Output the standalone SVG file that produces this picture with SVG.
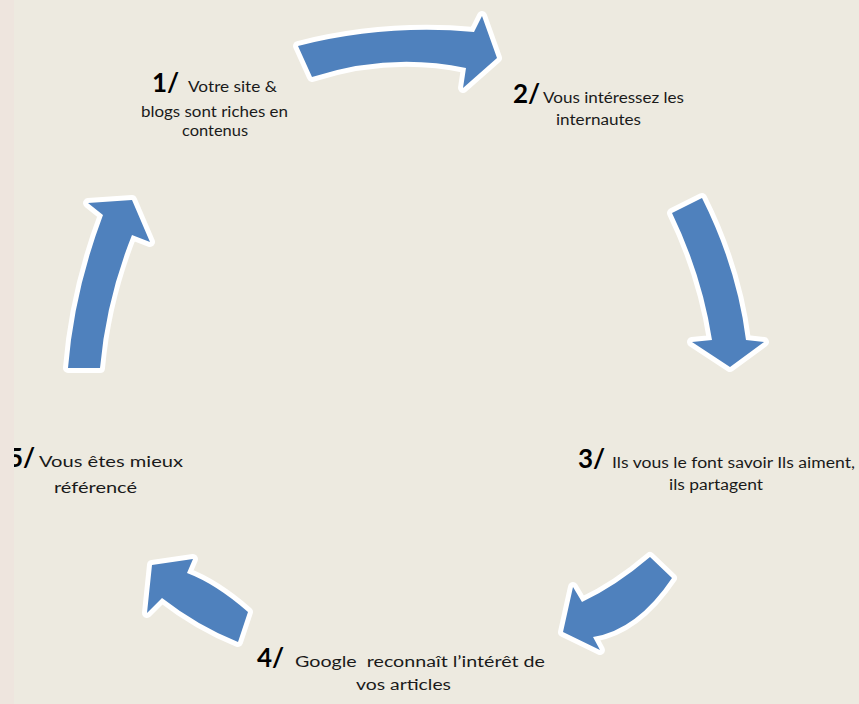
<svg xmlns="http://www.w3.org/2000/svg" width="859" height="704" viewBox="0 0 859 704">
<style>
.arrow{fill:#4F81BD;stroke:#FFFFFF;stroke-width:10;stroke-linejoin:round;paint-order:stroke}
.num{font-family:Lato,"Liberation Sans",sans-serif;font-weight:bold;font-size:26px;fill:#000}
.t{font-family:Lato,"Liberation Sans",sans-serif;font-size:15.5px;fill:#1a1a1a}
</style>
<rect x="0" y="0" width="859" height="704" fill="#EDEAE0"/>
<g id="connectors">
<path class="arrow" d="M298,46 Q385,24 474,32 L482,16 L497,58 L463,88 L466,68 Q390,52 312,77 Z"/>
<path class="arrow" d="M672,213 Q702,275 712,340 L692,342 L730,367 L764,342 L746,340 Q737,268 702,198 Z"/>
<path class="arrow" d="M650,557 Q616,586 582,602 L573,587 L563,632 L600,650 L593,637 Q637,630 672,578 Z"/>
<path class="arrow" d="M248,612 Q216,584 187,573 L193,559 L152,565 L147,613 L162,598 Q198,626 238,642 Z"/>
<path class="arrow" d="M68,368 Q74,292 103,215 L88,203 L132,200 L150,242 L132,235 Q106,300 100,368 Z"/>
</g>
<g id="node1">
<text class="num" x="152" y="92">1/</text>
<text class="t" x="188" y="92" textLength="89" lengthAdjust="spacingAndGlyphs">Votre site &amp;</text>
<text class="t" x="141" y="117" textLength="147" lengthAdjust="spacingAndGlyphs">blogs sont riches en</text>
<text class="t" x="182" y="136" textLength="66" lengthAdjust="spacingAndGlyphs">contenus</text>
</g>
<g id="node2">
<text class="num" x="513" y="103">2/</text>
<text class="t" x="543" y="103" textLength="141" lengthAdjust="spacingAndGlyphs">Vous intéressez les</text>
<text class="t" x="556" y="125" textLength="85" lengthAdjust="spacingAndGlyphs">internautes</text>
</g>
<g id="node3">
<text class="num" x="578" y="468">3/</text>
<text class="t" x="612" y="468" textLength="243" lengthAdjust="spacingAndGlyphs">Ils vous le font savoir Ils aiment,</text>
<text class="t" x="669" y="490" textLength="94" lengthAdjust="spacingAndGlyphs">ils partagent</text>
</g>
<g id="node4">
<text class="num" x="257" y="667">4/</text>
<text class="t" x="295" y="667" textLength="250" lengthAdjust="spacingAndGlyphs" xml:space="preserve">Google  reconnaît l’intérêt de</text>
<text class="t" x="356" y="690" textLength="95" lengthAdjust="spacingAndGlyphs">vos articles</text>
</g>
<g id="node5">
<text class="num" x="8" y="467">5/</text>
<text class="t" x="39" y="467" textLength="144" lengthAdjust="spacingAndGlyphs">Vous êtes mieux</text>
<text class="t" x="54" y="493" textLength="83" lengthAdjust="spacingAndGlyphs">référencé</text>
</g>
<rect x="0" y="0" width="14" height="704" fill="#EEE5DE"/>
</svg>
